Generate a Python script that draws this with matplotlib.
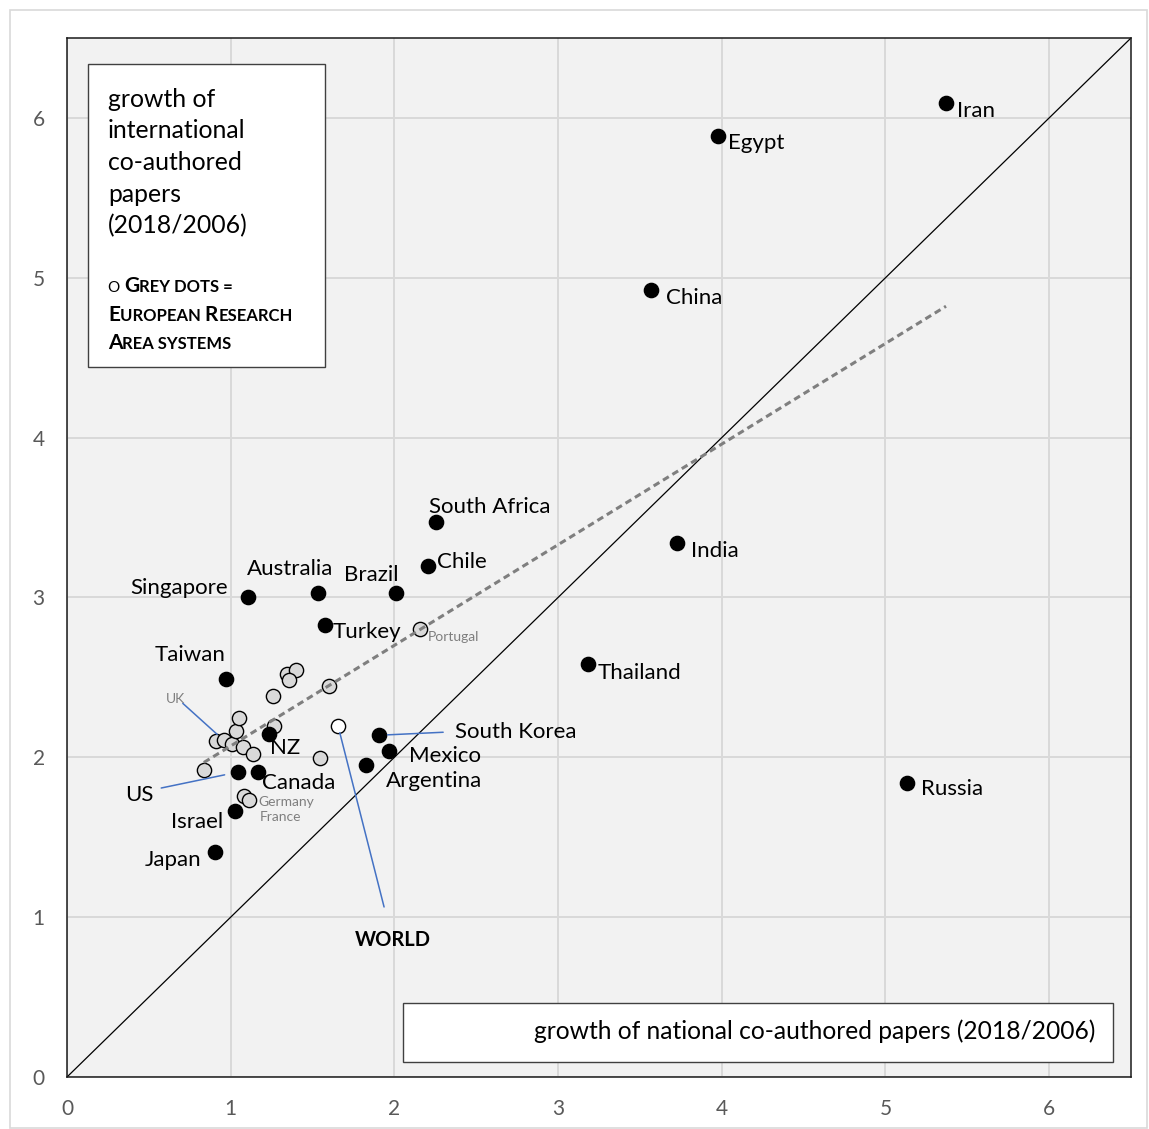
import matplotlib
matplotlib.use("Agg")
import matplotlib.pyplot as plt
from matplotlib.patches import Rectangle
import numpy as np

plt.rcParams['font.family'] = ['Lato', 'DejaVu Sans']

# ---------------- data ----------------
countries = ['Iran', 'Egypt', 'China', 'South Africa', 'Chile', 'India', 'Brazil',
             'Australia', 'Singapore', 'Turkey', 'Taiwan', 'Thailand', 'NZ',
             'South Korea', 'Mexico', 'Argentina', 'Canada', 'US', 'Russia',
             'Israel', 'Japan']
national = [5.37, 3.98, 3.565, 2.253, 2.204, 3.724, 2.009, 1.532, 1.105, 1.575,
            0.969, 3.181, 1.235, 1.907, 1.966, 1.825, 1.168, 1.046, 5.134,
            1.026, 0.904]
international = [6.094, 5.89, 4.925, 3.475, 3.194, 3.338, 3.025, 3.025, 3.006,
                 2.825, 2.488, 2.581, 2.148, 2.138, 2.038, 1.95, 1.908, 1.908,
                 1.838, 1.665, 1.406]

# European Research Area systems (grey dots)
era_names = ['', '', 'UK', '', '', '', '', '', '', '', '', '', '', '', '',
             'Portugal', 'Germany', 'France']
era_national = [0.836, 0.908, 0.958, 1.011, 1.030, 1.050, 1.077, 1.138, 1.266,
                1.260, 1.341, 1.396, 1.355, 1.600, 1.545, 2.155, 1.082, 1.111]
era_international = [1.923, 2.102, 2.106, 2.085, 2.165, 2.248, 2.065, 2.019,
                     2.196, 2.383, 2.523, 2.544, 2.481, 2.444, 1.996, 2.804,
                     1.756, 1.736]

world_national = [1.656]
world_international = [2.196]

x_ticks = [0, 1, 2, 3, 4, 5, 6]
y_ticks = [0, 1, 2, 3, 4, 5, 6]

x_title = 'growth of national co-authored papers (2018/2006)'
y_title_lines = ['growth of', 'international', 'co-authored', 'papers', '(2018/2006)']

# ---------------- layout ----------------
W, H = 1149, 1129
fig = plt.figure(figsize=(W / 100, H / 100), dpi=100)
fig.patch.set_facecolor('white')


def fx(px):
    return px / W


def fy(py):
    return 1 - py / H


ax = fig.add_axes([fx(67), fy(1077), (1131 - 67) / W, (1077 - 38) / H])
ax.set_facecolor('#f2f2f2')
ax.set_xlim(0, 6.5)
ax.set_ylim(0, 6.5)
ax.set_xticks(x_ticks)
ax.set_yticks(y_ticks)
ax.set_xticklabels([str(t) for t in x_ticks])
ax.set_yticklabels([str(t) for t in y_ticks])
ax.tick_params(length=0, labelsize=15, labelcolor='#595959', pad=16)
ax.grid(True, color='#d9d9d9', lw=1.4, zorder=0)
ax.set_axisbelow(True)
for s in ax.spines.values():
    s.set_color('#1a1a1a')
    s.set_linewidth(1.1)

# diagonal y = x
ax.plot([0, 6.5], [0, 6.5], color='black', lw=0.9, zorder=1)

# trend line over all points
all_x = np.array(national + era_national + world_national)
all_y = np.array(international + era_international + world_international)
slope, intercept = np.polyfit(all_x, all_y, 1)
tx = np.array([all_x.min(), all_x.max()])
ax.plot(tx, intercept + slope * tx, color='#7f7f7f', lw=2.2, ls=(0, (2.2, 1.4)),
        zorder=3)

ms = 105
ax.scatter(era_national, era_international, s=ms, facecolor='#d9d9d9',
           edgecolor='black', lw=1.0, zorder=2)
ax.scatter(world_national, world_international, s=ms, facecolor='white',
           edgecolor='black', lw=1.0, zorder=4)
ax.scatter(national, international, s=ms, facecolor='black', edgecolor='black',
           lw=1.0, zorder=4)

# label offsets in pixels (dx right, dy down), alignment
lab = {
    'Iran': (11, 8, 'left'),
    'Egypt': (10, 7, 'left'),
    'China': (15, 8, 'left'),
    'South Africa': (-7, -15, 'left'),
    'Chile': (9, -4, 'left'),
    'India': (14, 8, 'left'),
    'Brazil': (3, -18, 'right'),
    'Australia': (-28, -24, 'center'),
    'Singapore': (-20, -9, 'right'),
    'Turkey': (8, 7, 'left'),
    'Taiwan': (-36, -24, 'center'),
    'Thailand': (10, 9, 'left'),
    'NZ': (1, 14, 'left'),
    'South Korea': (76, -3, 'left'),
    'Mexico': (20, 5, 'left'),
    'Argentina': (20, 16, 'left'),
    'Canada': (4, 11, 'left'),
    'US': (-85, 23, 'right'),
    'Russia': (14, 6, 'left'),
    'Israel': (-12, 11, 'right'),
    'Japan': (-14, 8, 'right'),
}
for name, xv, yv in zip(countries, national, international):
    dx, dy, ha = lab[name]
    ax.annotate(name, (xv, yv), xytext=(dx, -dy), textcoords='offset pixels',
                ha=ha, va='center', fontsize=16, color='black', zorder=6)

small = {
    'Portugal': (8, 8),
    'Germany': (14, 6),
    'France': (11, 17),
}
for name, xv, yv in zip(era_names, era_national, era_international):
    if name in small:
        dx, dy = small[name]
        ax.annotate(name, (xv, yv), xytext=(dx, -dy), textcoords='offset pixels',
                    ha='left', va='center', fontsize=10, color='#7f7f7f', zorder=6)
    elif name == 'UK':
        ax.annotate(name, (xv, yv), xytext=(-48, 41), textcoords='offset pixels',
                    ha='center', va='center', fontsize=10, color='#7f7f7f', zorder=6)

blue = '#4472c4'
# leader lines (start offset in pixels, shrink at point end in points)
leaders = [
    ('UK', era_national, era_international, era_names, (-41, 37), 6.5),
    ('US', national, international, countries, (-77, -16), 10),
    ('South Korea', national, international, countries, (64, 3), 6),
]
for name, xs, ys, names, (ox, oy), shr in leaders:
    i = names.index(name)
    ax.annotate('', xy=(xs[i], ys[i]), xytext=(ox, oy), textcoords='offset pixels',
                arrowprops=dict(arrowstyle='-', color=blue, lw=1.1,
                                shrinkA=0, shrinkB=shr), zorder=5)

# WORLD
ax.annotate('', xy=(world_national[0], world_international[0]), xytext=(46, -181),
            textcoords='offset pixels',
            arrowprops=dict(arrowstyle='-', color=blue, lw=1.1, shrinkA=0,
                            shrinkB=5), zorder=5)
ax.annotate('WORLD', (world_national[0], world_international[0]),
            xytext=(55, -214), textcoords='offset pixels', ha='center',
            va='center', fontsize=14.5, fontweight='bold', zorder=6)

# ---------------- boxes ----------------
# figure border
fig.patches.append(Rectangle((fx(10), fy(1128)), (1147 - 10) / W, (1128 - 10) / H,
                             transform=fig.transFigure, fill=False,
                             ec='#d9d9d9', lw=1.2, zorder=0))

# y title box
fig.patches.append(Rectangle((fx(88), fy(367)), (325 - 88) / W, (367 - 64) / H,
                             transform=fig.transFigure, facecolor='white',
                             ec='#404040', lw=1.0, zorder=5))
baselines = [106.7, 138.3, 169.9, 201.5, 233.0]
for line, b in zip(y_title_lines, baselines):
    fig.text(fx(108), fy(b), line, fontsize=17.8, va='baseline', ha='left',
             zorder=6)

renderer = fig.canvas.get_renderer()


def smallcaps(x_px, base_px, pieces):
    x = x_px
    for s, size, weight in pieces:
        t = fig.text(fx(x), fy(base_px), s, fontsize=size, fontweight=weight,
                     va='baseline', ha='left', zorder=6)
        x += t.get_window_extent(renderer).width


L, S = 15, 12
smallcaps(108, 292, [('O ', S - 1, 'normal'), ('G', L, 'bold'), ('REY DOTS =', S, 'bold')])
smallcaps(108, 320.7, [('E', L, 'bold'), ('UROPEAN ', S, 'bold'), ('R', L, 'bold'),
                       ('ESEARCH', S, 'bold')])
smallcaps(108, 349.3, [('A', L, 'bold'), ('REA SYSTEMS', S, 'bold')])

# x title box
fig.patches.append(Rectangle((fx(403), fy(1062)), (1113 - 403) / W, (1062 - 1003) / H,
                             transform=fig.transFigure, facecolor='white',
                             ec='#404040', lw=1.0, zorder=5))
fig.text(fx(1095), fy(1031), x_title, fontsize=17.7, va='center', ha='right',
         zorder=6)

fig.savefig('out.png', dpi=100, facecolor='white')
